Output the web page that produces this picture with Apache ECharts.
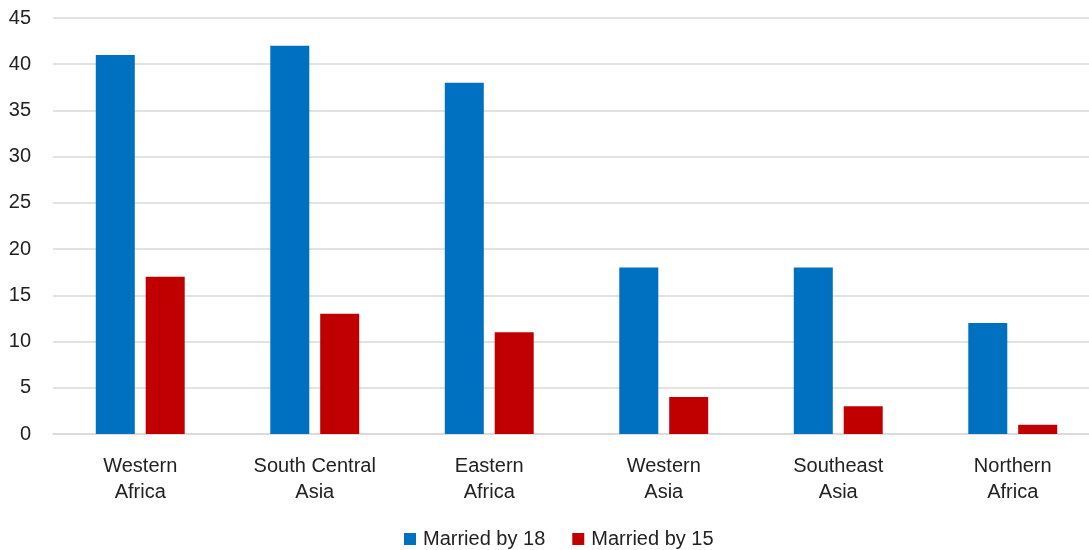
<!DOCTYPE html>
<html><head><meta charset="utf-8">
<script src="https://cdn.jsdelivr.net/npm/echarts@6/dist/echarts.min.js"></script>
<style>html,body{margin:0;padding:0;background:#fff;overflow:hidden}#c{width:1100px;height:550px}</style>
</head><body><div id="c"></div>
<script>
const categories = ["Western\nAfrica", "South Central\nAsia", "Eastern\nAfrica", "Western\nAsia", "Southeast\nAsia", "Northern\nAfrica"];
const marriedBy18 = [41, 42, 38, 18, 18, 12];
const marriedBy15 = [17, 13, 11, 4, 3, 1];
const font = "'Liberation Sans', Arial, sans-serif";
const textColor = '#222';
const chart = echarts.init(document.getElementById('c'));
chart.setOption({
  animation: false,
  textStyle: { fontFamily: font },
  grid: { left: 53, right: 0, top: 18, bottom: 116, containLabel: false },
  legend: {
    left: 404, top: 529, padding: 0, itemWidth: 12, itemHeight: 12, itemGap: 27, icon: 'rect',
    textStyle: { fontSize: 20, color: textColor, fontFamily: font, padding: [0, 0, 0, 2] },
    data: ['Married by 18', 'Married by 15']
  },
  xAxis: {
    type: 'category', data: categories,
    axisLine: { lineStyle: { color: '#d9d9d9', width: 1.5 } },
    axisTick: { show: false },
    axisLabel: { fontSize: 20, color: textColor, margin: 19, lineHeight: 26, fontFamily: font }
  },
  yAxis: {
    type: 'value', min: 0, max: 45, interval: 5,
    axisLabel: { fontSize: 20, color: textColor, margin: 22, fontFamily: font },
    splitLine: { lineStyle: { color: '#d9d9d9', width: 1.5 } },
    axisLine: { show: false }, axisTick: { show: false }
  },
  series: [
    { name: 'Married by 18', type: 'bar', data: marriedBy18, barWidth: 39, barGap: '28%', itemStyle: { color: '#0070C0' } },
    { name: 'Married by 15', type: 'bar', data: marriedBy15, barWidth: 39, itemStyle: { color: '#C00000' } }
  ]
});
</script></body></html>
